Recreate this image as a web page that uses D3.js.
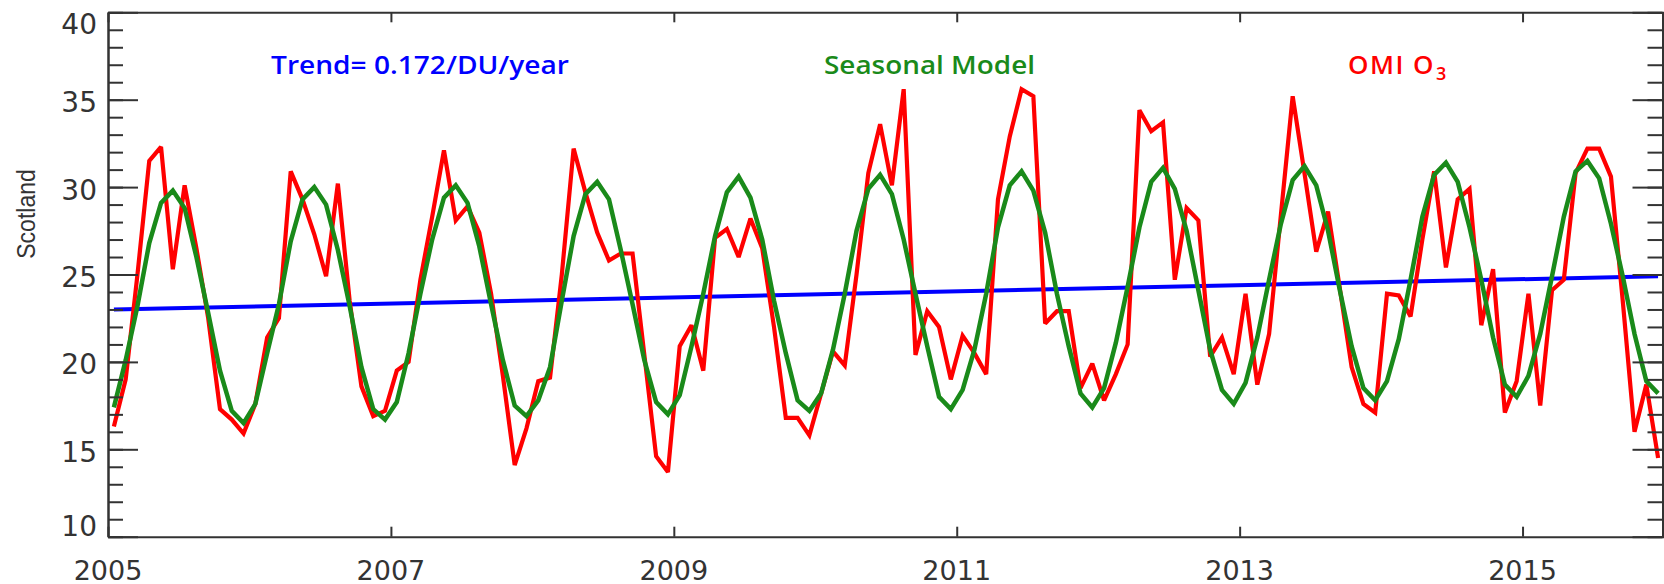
<!DOCTYPE html>
<html>
<head>
<meta charset="utf-8">
<script src="https://cdn.jsdelivr.net/npm/d3@7"></script>
<style>
  html, body { margin: 0; padding: 0; background: #ffffff; }
  svg { display: block; }
</style>
</head>
<body>
<svg id="chart" width="1664" height="584"></svg>
<script>
// Monthly total-column ozone series for Scotland, January 2005 – December 2015
const startYear = 2005;
const endYear = 2016;

// OMI observed monthly means
const omiO3 = [
  16.3, 19.0, 25.0, 31.5, 32.3, 25.3, 30.1, 26.5, 22.5, 17.3, 16.7, 15.9,
  17.6, 21.4, 22.5, 30.9, 29.3, 27.3, 24.9, 30.2, 23.5, 18.6, 16.9, 17.2,
  19.5, 20.0, 24.7, 28.3, 32.1, 28.1, 28.9, 27.4, 23.9, 19.2, 14.1, 16.2,
  18.9, 19.1, 25.0, 32.2, 29.7, 27.4, 25.8, 26.2, 26.2, 20.4, 14.6, 13.7,
  20.9, 22.1, 19.5, 27.1, 27.6, 26.0, 28.2, 26.5, 22.0, 16.8, 16.8, 15.8,
  18.2, 20.6, 19.8, 25.0, 30.8, 33.6, 30.1, 35.6, 20.4, 22.9, 22.0, 19.0,
  21.5, 20.5, 19.3, 29.3, 32.9, 35.6, 35.2, 22.2, 22.9, 22.9, 18.5, 19.9,
  17.8, 19.3, 21.0, 34.4, 33.2, 33.7, 24.7, 28.8, 28.1, 20.3, 21.4, 19.3,
  23.9, 18.7, 21.6, 28.4, 35.2, 30.8, 26.3, 28.6, 24.2, 19.7, 17.6, 17.1,
  23.9, 23.8, 22.6, 27.0, 30.9, 25.4, 29.3, 29.9, 22.1, 25.3, 17.1, 18.9,
  23.9, 17.5, 24.1, 24.7, 30.8, 32.2, 32.2, 30.6, 23.5, 16.0, 18.7, 14.5
];

// Fitted seasonal model
const seasonalModel = [
  17.4, 20.1, 23.2, 26.8, 29.1, 29.8, 28.8, 26.0, 22.8, 19.5, 17.2, 16.5,
  17.6, 20.5, 23.3, 26.9, 29.3, 30.0, 29.0, 26.4, 23.2, 19.7, 17.3, 16.7,
  17.7, 20.5, 23.9, 27.0, 29.4, 30.1, 29.1, 26.6, 23.3, 20.1, 17.5, 16.9,
  17.8, 19.7, 23.5, 27.2, 29.6, 30.3, 29.3, 26.4, 23.3, 20.1, 17.7, 17.0,
  18.1, 20.9, 23.9, 27.2, 29.7, 30.6, 29.4, 27.0, 23.5, 20.5, 17.8, 17.2,
  18.2, 20.7, 23.9, 27.5, 29.9, 30.7, 29.6, 27.0, 23.9, 20.9, 18.0, 17.3,
  18.4, 20.7, 23.9, 27.7, 30.1, 30.9, 29.8, 27.4, 23.9, 20.9, 18.2, 17.4,
  18.5, 21.1, 24.3, 27.7, 30.3, 31.1, 29.9, 27.5, 24.1, 20.7, 18.4, 17.6,
  18.8, 21.4, 24.7, 27.9, 30.4, 31.2, 30.1, 27.5, 24.1, 20.9, 18.5, 17.8,
  18.9, 21.3, 24.7, 28.3, 30.7, 31.4, 30.3, 27.7, 24.7, 21.4, 18.7, 18.0,
  19.2, 21.6, 24.9, 28.3, 30.9, 31.5, 30.5, 27.9, 24.9, 21.6, 18.9, 18.2
];

// Linear trend (end points)
const trendYears = [2005.042, 2015.958];
const trendValues = [23.0, 24.9];

// Axis ticks
const yMajorTicks = [10, 15, 20, 25, 30, 35, 40];
const yMinorTicks = d3.range(10, 41, 1);
const xMajorTicks = [2005, 2007, 2009, 2011, 2013, 2015];

const trendLabel = "Trend= 0.172/DU/year";
const modelLabel = "Seasonal Model";
const omiLabel = "OMI O";
const omiSub = "3";
const yTitle = "Scotland";

const colors = { omi: "#ff0000", model: "#1a8a1a", trend: "#0000ff", axis: "#333333" };

const svg = d3.select("#chart");
const W = 1664, H = 584;
const plot = { left: 108, right: 1664, top: 12.3, bottom: 536.7 };

const x = d3.scaleLinear().domain([startYear, endYear]).range([plot.left, plot.right]);
const y = d3.scaleLinear().domain([10, 40]).range([plot.bottom, plot.top]);

// monthly time stamps at mid-month
const monthTime = i => startYear + (i + 0.5) / 12;

svg.append("rect").attr("width", W).attr("height", H).attr("fill", "#fff");

// ---- series ----
const lineGen = d3.line().x(d => x(d[0])).y(d => y(d[1]));

svg.append("path")
  .datum(trendYears.map((t, i) => [t, trendValues[i]]))
  .attr("d", lineGen)
  .attr("fill", "none")
  .attr("stroke", colors.trend)
  .attr("stroke-width", 4);

svg.append("path")
  .datum(omiO3.map((v, i) => [monthTime(i), v]))
  .attr("d", lineGen)
  .attr("fill", "none")
  .attr("stroke", colors.omi)
  .attr("stroke-width", 4.2)
  .attr("stroke-linejoin", "miter")
  .attr("stroke-miterlimit", 2.5);

svg.append("path")
  .datum(seasonalModel.map((v, i) => [monthTime(i), v]))
  .attr("d", lineGen)
  .attr("fill", "none")
  .attr("stroke", colors.model)
  .attr("stroke-width", 4.5)
  .attr("stroke-linejoin", "miter")
  .attr("stroke-miterlimit", 2.5);

// ---- frame axes (ticks point inward) ----
const rightX = x(endYear) - 1.5;

function styleAxis(g) {
  g.selectAll("path.domain").attr("stroke", colors.axis).attr("stroke-width", 2);
  g.selectAll(".tick line").attr("stroke", colors.axis).attr("stroke-width", 2);
  g.selectAll(".tick text").remove();
}

svg.append("g").attr("transform", `translate(${plot.left},0)`)
  .call(d3.axisLeft(y).tickValues(yMinorTicks).tickSize(-15).tickSizeOuter(0)).call(styleAxis);
svg.append("g").attr("transform", `translate(${plot.left},0)`)
  .call(d3.axisLeft(y).tickValues(yMajorTicks).tickSize(-30).tickSizeOuter(0)).call(styleAxis);
svg.append("g").attr("transform", `translate(${rightX},0)`)
  .call(d3.axisRight(y).tickValues(yMinorTicks).tickSize(-15).tickSizeOuter(0)).call(styleAxis);
svg.append("g").attr("transform", `translate(${rightX},0)`)
  .call(d3.axisRight(y).tickValues(yMajorTicks).tickSize(-30).tickSizeOuter(0)).call(styleAxis);
svg.append("g").attr("transform", `translate(0,${plot.bottom})`)
  .call(d3.axisBottom(x).tickValues(xMajorTicks).tickSize(-10).tickSizeOuter(0)).call(styleAxis);
svg.append("g").attr("transform", `translate(0,${plot.top})`)
  .call(d3.axisTop(x).tickValues(xMajorTicks).tickSize(-10).tickSizeOuter(0)).call(styleAxis);

// ---- tick labels ----
const tickFont = "'DejaVu Sans', sans-serif";
svg.append("g").selectAll("text").data(yMajorTicks).join("text")
  .attr("x", 97)
  .attr("y", d => y(d) + (d === 40 ? 12 : d === 10 ? -10 : 3))
  .attr("text-anchor", "end")
  .attr("dominant-baseline", "central")
  .attr("font-family", tickFont)
  .attr("font-size", 28)
  .attr("fill", "#333")
  .text(d => d);

svg.append("g").selectAll("text").data(xMajorTicks).join("text")
  .attr("x", d => x(d))
  .attr("y", 570)
  .attr("text-anchor", "middle")
  .attr("dominant-baseline", "central")
  .attr("font-family", tickFont)
  .attr("font-size", 27)
  .attr("fill", "#333")
  .text(d => d);

svg.append("text")
  .attr("transform", "translate(35,214) rotate(-90) scale(1,1.15)")
  .attr("text-anchor", "middle")
  .attr("font-family", "'Liberation Sans', Arial, sans-serif")
  .attr("font-size", 23)
  .attr("fill", "#333")
  .text(yTitle);

// ---- legend labels ----
const legendFont = "'Open Sans', Lato, sans-serif";
svg.append("text")
  .attr("x", 271).attr("y", 74)
  .attr("font-family", legendFont).attr("font-weight", 600).attr("font-size", 26)
  .attr("textLength", 298).attr("lengthAdjust", "spacingAndGlyphs")
  .attr("fill", colors.trend)
  .text(trendLabel);

svg.append("text")
  .attr("x", 824).attr("y", 74)
  .attr("font-family", legendFont).attr("font-weight", 600).attr("font-size", 26)
  .attr("textLength", 211).attr("lengthAdjust", "spacingAndGlyphs")
  .attr("fill", colors.model)
  .text(modelLabel);

const omiText = svg.append("text")
  .attr("x", 1348).attr("y", 74)
  .attr("font-family", legendFont).attr("font-weight", 600).attr("font-size", 26)
  .attr("fill", colors.omi);
omiText.append("tspan").attr("letter-spacing", 1.5).text(omiLabel);
omiText.append("tspan").attr("font-size", 18).attr("dy", 6).attr("dx", 1).text(omiSub);
</script>
</body>
</html>
